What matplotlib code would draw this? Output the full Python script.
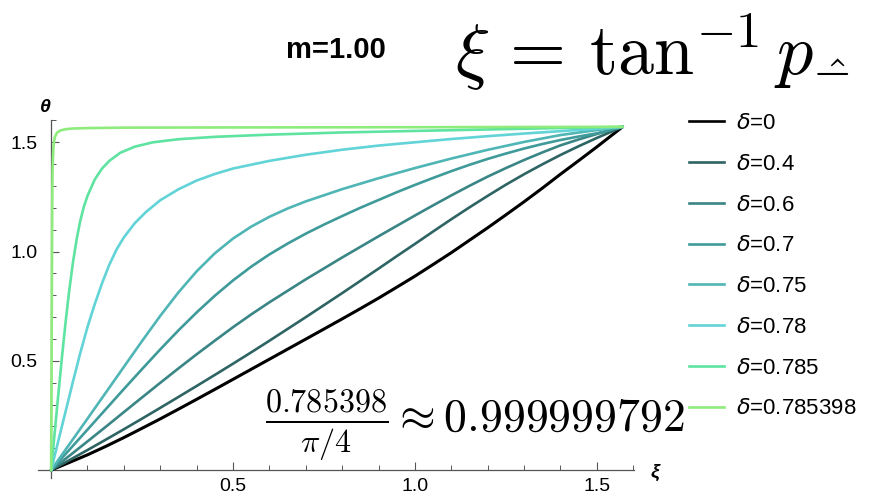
import matplotlib.pyplot as plt
from matplotlib.lines import Line2D
from matplotlib.ticker import FixedLocator, MultipleLocator

plt.rcParams['font.family'] = ['Liberation Sans', 'DejaVu Sans']

# theta(xi) for each delta
deltas = ["0", "0.4", "0.6", "0.7", "0.75", "0.78", "0.785", "0.785398"]
colors = ["#000000", "#2f6464", "#3a8585", "#3f9a9a", "#4fb5b5",
          "#62d3d6", "#5ee3a0", "#8eec7c"]

xi_d0 = [0, 0.05, 0.1, 0.15, 0.2, 0.25, 0.3, 0.35, 0.4, 0.45, 0.5, 0.55, 0.6, 0.65, 0.7, 0.75,
         0.8, 0.85, 0.9, 0.95, 1.0, 1.05, 1.1, 1.15, 1.2, 1.25, 1.3, 1.35, 1.4, 1.45, 1.5, 1.5708]
th_d0 = [0, 0.035, 0.070, 0.1085, 0.149, 0.1915, 0.2345, 0.279, 0.324, 0.3695, 0.4155, 0.4615,
         0.5075, 0.5535, 0.5995, 0.6457, 0.692, 0.739, 0.787, 0.837, 0.8875, 0.941, 0.995,
         1.052, 1.109, 1.168, 1.228, 1.290, 1.354, 1.416, 1.479, 1.5708]

xi_d4 = [0, 0.05, 0.1, 0.15, 0.2, 0.25, 0.3, 0.35, 0.4, 0.45, 0.5, 0.55, 0.6, 0.65, 0.7, 0.75,
         0.8, 0.85, 0.9, 0.95, 1.0, 1.05, 1.1, 1.15, 1.2, 1.25, 1.3, 1.35, 1.4, 1.45, 1.5, 1.5708]
th_d4 = [0, 0.0455, 0.092, 0.1392, 0.187, 0.2357, 0.285, 0.3348, 0.385, 0.4357, 0.487, 0.539,
         0.592, 0.646, 0.700, 0.755, 0.810, 0.866, 0.922, 0.979, 1.035, 1.092, 1.148, 1.2025,
         1.255, 1.306, 1.354, 1.399, 1.442, 1.482, 1.520, 1.5708]

xi_d6 = [0, 0.05, 0.1, 0.15, 0.2, 0.25, 0.3, 0.35, 0.4, 0.45, 0.5, 0.55, 0.6, 0.65, 0.7, 0.75,
         0.8, 0.85, 0.9, 0.95, 1.0, 1.05, 1.1, 1.15, 1.2, 1.25, 1.3, 1.35, 1.4, 1.45, 1.5, 1.5708]
th_d6 = [0, 0.0654, 0.1315, 0.198, 0.2655, 0.3327, 0.3995, 0.4655, 0.530, 0.5925, 0.654, 0.7125,
         0.768, 0.8205, 0.873, 0.923, 0.973, 1.0215, 1.070, 1.1175, 1.165, 1.2115, 1.257, 1.301,
         1.343, 1.382, 1.419, 1.4535, 1.486, 1.513, 1.538, 1.5708]

xi_d7 = [0, 0.05, 0.1, 0.15, 0.2, 0.25, 0.3, 0.35, 0.4, 0.45, 0.5, 0.55, 0.6, 0.65, 0.7, 0.75,
         0.8, 0.85, 0.9, 0.95, 1.0, 1.05, 1.1, 1.15, 1.2, 1.25, 1.3, 1.35, 1.4, 1.45, 1.5, 1.5708]
th_d7 = [0, 0.0928, 0.1855, 0.2783, 0.371, 0.4625, 0.5525, 0.6395, 0.7215, 0.798, 0.868, 0.931,
         0.987, 1.0365, 1.082, 1.1235, 1.1625, 1.2005, 1.236, 1.2715, 1.305, 1.337, 1.368, 1.397,
         1.424, 1.4485, 1.4715, 1.492, 1.5105, 1.5265, 1.541, 1.5708]

xi_d75 = [0, 0.05, 0.1, 0.15, 0.2, 0.25, 0.3, 0.35, 0.4, 0.45, 0.5, 0.55, 0.6, 0.65, 0.7, 0.8,
          0.9, 1.0, 1.1, 1.2, 1.3, 1.4, 1.5, 1.5708]
th_d75 = [0, 0.1178, 0.2355, 0.354, 0.4725, 0.5908, 0.7058, 0.8133, 0.9096, 0.9921, 1.0596,
          1.1141, 1.1591, 1.1971, 1.2296, 1.2856, 1.3356, 1.3821, 1.4256, 1.4656, 1.5016,
          1.5331, 1.556, 1.5708]

xi_d78 = [0, 0.02, 0.04, 0.06, 0.08, 0.1, 0.12, 0.14, 0.16, 0.18, 0.2, 0.23, 0.26, 0.3, 0.35,
          0.4, 0.45, 0.5, 0.6, 0.7, 0.8, 0.9, 1.0, 1.1, 1.2, 1.3, 1.4, 1.5, 1.5708]
th_d78 = [0, 0.135, 0.27, 0.405, 0.535, 0.655, 0.76, 0.855, 0.94, 1.01, 1.065, 1.13, 1.18, 1.235,
          1.285, 1.325, 1.355, 1.38, 1.415, 1.443, 1.466, 1.485, 1.50, 1.515, 1.528, 1.54,
          1.551, 1.562, 1.5708]

xi_d785 = [0, 0.01, 0.02, 0.03, 0.04, 0.05, 0.06, 0.07, 0.08, 0.09, 0.1, 0.12, 0.14, 0.16, 0.19,
           0.23, 0.28, 0.35, 0.45, 0.6, 0.8, 1.0, 1.3, 1.5708]
th_d785 = [0, 0.175, 0.35, 0.52, 0.68, 0.825, 0.95, 1.055, 1.14, 1.205, 1.255, 1.33, 1.38, 1.415,
           1.452, 1.48, 1.50, 1.514, 1.525, 1.535, 1.545, 1.552, 1.562, 1.5708]

xi_d7854 = [0, 0.002, 0.003, 0.004, 0.006, 0.008, 0.011, 0.016, 0.025, 0.04, 0.06, 0.1, 0.2,
            0.5, 1.0, 1.5708]
th_d7854 = [0, 0.8, 1.2, 1.38, 1.47, 1.505, 1.527, 1.543, 1.554, 1.56, 1.563, 1.565, 1.567,
            1.568, 1.569, 1.5708]

curves = [(xi_d0, th_d0), (xi_d4, th_d4), (xi_d6, th_d6), (xi_d7, th_d7),
          (xi_d75, th_d75), (xi_d78, th_d78), (xi_d785, th_d785), (xi_d7854, th_d7854)]

fig = plt.figure(figsize=(8.7, 5.0), dpi=100)
ax = fig.add_axes([0.0437, 0.044, 0.685, 0.716])

for (x, y), c in zip(curves, colors):
    lw = 2.2 if c == "#000000" else 1.9
    ax.plot(x, y, color=c, lw=lw, solid_joinstyle='round', solid_capstyle='round', zorder=3)

ax.set_xlim(-0.036, 1.602)
ax.set_ylim(-0.036, 1.602)
for s in ("top", "right"):
    ax.spines[s].set_visible(False)
for s in ("left", "bottom"):
    ax.spines[s].set_position(("data", 0))
    ax.spines[s].set_color("#555555")
    ax.spines[s].set_linewidth(0.9)

ax.xaxis.set_major_locator(FixedLocator([0.5, 1.0, 1.5]))
ax.yaxis.set_major_locator(FixedLocator([0.5, 1.0, 1.5]))
ax.xaxis.set_minor_locator(MultipleLocator(0.1))
ax.yaxis.set_minor_locator(MultipleLocator(0.1))
ax.tick_params(which='major', direction='in', length=6, width=0.8, color="#555555",
               labelsize=14)
ax.tick_params(axis='x', which='major', pad=6)
ax.tick_params(axis='y', which='major', pad=10)
ax.tick_params(which='minor', direction='in', length=3.5, width=0.7, color="#555555")
ax.set_xticklabels(["0.5", "1.0", "1.5"])
ax.set_yticklabels(["0.5", "1.0", "1.5"])

fig.text(0.052, 0.784, "θ", fontsize=14, fontweight='bold', style='italic', ha='center', va='center')
fig.text(0.753, 0.055, "ξ", fontsize=14, fontweight='bold', style='italic', ha='center', va='center')
fig.text(0.386, 0.90, "m=1.00", fontsize=21, fontweight='bold', ha='center', va='center')

fig.text(0.523, 0.85, r'$\xi\,=\,\tan^{-1} p_{\hat{-}}$', fontsize=52,
         math_fontfamily='cm', ha='left', va='baseline')
fig.text(0.305, 0.136, r'$\frac{0.785398}{\pi/4} \approx 0.999999792$', fontsize=33,
         math_fontfamily='cm', ha='left', va='baseline')

handles = [Line2D([], [], color=c, lw=1.9) for c in colors]
labels = [r'$\delta$=' + d for d in deltas]
fig.legend(handles, labels, loc='upper left', bbox_to_anchor=(0.7925, 0.774),
           frameon=False, fontsize=16, handlelength=1.56, handletextpad=0.54,
           labelspacing=0.89, borderpad=0, borderaxespad=0)

fig.savefig("out.png", dpi=100)
